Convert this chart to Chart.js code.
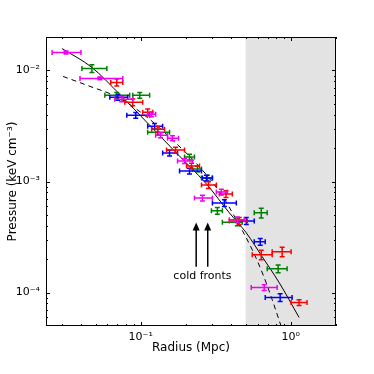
<!DOCTYPE html>
<html><head><meta charset="utf-8">
<script src="https://cdn.jsdelivr.net/npm/chart.js@4"></script>
<style>html,body{margin:0;padding:0;background:#fff}</style>
</head><body>
<canvas id="c" width="374" height="374"></canvas>
<script>
// ---- axis ranges & ticks ----
const xRange = [0.0234, 2.0];
const yRange = [5e-5, 0.02];
const xMajor = [0.1, 1];
const xMajorLabels = ['10\u207B\u00B9', '10\u2070'];
const yMajor = [1e-4, 1e-3, 1e-2];
const yMajorLabels = ['10\u207B\u2074', '10\u207B\u00B3', '10\u207B\u00B2'];
const xMinor = [0.03,0.04,0.05,0.06,0.07,0.08,0.09,0.2,0.3,0.4,0.5,0.6,0.7,0.8,0.9,2];
const yMinor = [6e-5,7e-5,8e-5,9e-5,2e-4,3e-4,4e-4,5e-4,6e-4,7e-4,8e-4,9e-4,2e-3,3e-3,4e-3,5e-3,6e-3,7e-3,8e-3,9e-3];
const shadeFrom = 0.5;

// ---- green series ----
const greenR   = [0.0473, 0.0693, 0.0985, 0.1297, 0.2114, 0.2389, 0.2783, 0.3242, 0.4402, 0.6353, 0.8236];
const greenRLo = [0.0406, 0.0577, 0.0885, 0.1113, 0.1959, 0.2214, 0.2540, 0.2958, 0.3500, 0.5707, 0.6963];
const greenRHi = [0.0595, 0.0845, 0.1147, 0.1557, 0.2282, 0.2540, 0.3004, 0.3500, 0.4752, 0.6963, 0.9450];
const greenP   = [0.01042, 0.00597, 0.00597, 0.00278, 0.001658, 0.001294, 0.001075, 0.000544, 0.00043, 0.000522, 0.000164];
const greenPErr= [0.08, 0.06, 0.06, 0.06, 0.06, 0.06, 0.06, 0.07, 0.07, 0.1, 0.08];
// ---- blue series ----
const blueR    = [0.0704, 0.0927, 0.1238, 0.1557, 0.2114, 0.2741, 0.3609, 0.5051, 0.6257, 0.8492];
const blueRLo  = [0.0623, 0.0808, 0.1113, 0.1400, 0.1815, 0.2579, 0.3004, 0.4539, 0.5707, 0.6754];
const blueRHi  = [0.0820, 0.1147, 0.1400, 0.1760, 0.2540, 0.3004, 0.4335, 0.5707, 0.6754, 1.020];
const blueP    = [0.005724, 0.003948, 0.003147, 0.001801, 0.001242, 0.001075, 0.000641, 0.000442, 0.000287, 0.0000902];
const bluePErr = [0.06, 0.06, 0.06, 0.06, 0.06, 0.06, 0.07, 0.07, 0.07, 0.08];
// ---- red series ----
const redR     = [0.0693, 0.0885, 0.1113, 0.1297, 0.1707, 0.2181, 0.283, 0.37, 0.4539, 0.6353, 0.8755, 1.135];
const redRLo   = [0.0632, 0.0783, 0.1031, 0.1183, 0.1487, 0.2020, 0.2540, 0.3342, 0.3896, 0.5535, 0.7516, 1.004];
const redRHi   = [0.0760, 0.1031, 0.1201, 0.1442, 0.1959, 0.2463, 0.3192, 0.4078, 0.5129, 0.7516, 1.0046, 1.283];
const redP     = [0.007806, 0.005164, 0.0042, 0.002957, 0.001917, 0.001377, 0.00093, 0.000772, 0.000442, 0.000219, 0.000233, 0.0000814];
const redPErr  = [0.07, 0.07, 0.07, 0.06, 0.06, 0.06, 0.07, 0.07, 0.07, 0.1, 0.1, 0.06];
// ---- magenta series ----
const magR     = [0.0318, 0.0534, 0.0748, 0.1183, 0.1357, 0.1631, 0.1959, 0.2579, 0.3447, 0.44, 0.665];
const magRLo   = [0.0257, 0.0394, 0.0672, 0.1113, 0.1258, 0.1510, 0.1760, 0.2282, 0.3192, 0.3896, 0.5451];
const magRHi   = [0.0400, 0.0760, 0.0885, 0.1258, 0.1510, 0.1787, 0.2214, 0.3004, 0.3778, 0.4899, 0.8111];
const magP     = [0.0145, 0.00848, 0.005495, 0.00403, 0.002612, 0.002455, 0.001527, 0.000711, 0.000805, 0.000452, 0.000111];
const magPErr  = [0.03, 0.03, 0.05, 0.05, 0.05, 0.05, 0.05, 0.06, 0.06, 0.06, 0.06];
// ---- model curves ----
const solidR = [0.0299, 0.0473, 0.0704, 0.1147, 0.1733, 0.2741, 0.3896, 0.5051, 0.645, 0.8363, 1.135];
const solidP = [0.01574, 0.01064, 0.006347, 0.003211, 0.001801, 0.000950, 0.000522, 0.000345, 0.00021, 0.000123, 0.0000597];
const dashR  = [0.0304, 0.0459, 0.0704, 0.1063, 0.1557, 0.254, 0.350, 0.4335, 0.5535, 0.665, 0.751, 0.876];
const dashP  = [0.00883, 0.00719, 0.00573, 0.003948, 0.002506, 0.001294, 0.000741, 0.000452, 0.000243, 0.0001363, 0.0000865, 0.0000466];
// ---- annotation ----
const arrowR = [0.2342, 0.2796];
const arrowP = [0.000171, 0.000427];   // [base, tip]
const noteText = 'cold fronts';
const noteAt = [0.2579, 0.000140];

const pts = (xs, ys) => xs.map((x, i) => ({x: x, y: ys[i]}));
const series = (label, color, r, p, lo, hi, pe) => ({
  type: 'scatter', label: label, data: pts(r, p), pointRadius: 0, borderColor: color,
  backgroundColor: color, err: {lo: lo, hi: hi, pe: pe}, showLine: false
});

const ctx = document.getElementById('c').getContext('2d');

const decor = {
  id: 'decor',
  beforeDatasetsDraw(chart) {
    const {ctx, chartArea: a, scales: {x}} = chart;
    ctx.save();
    ctx.fillStyle = '#e3e3e3';
    const sx = x.getPixelForValue(shadeFrom);
    ctx.fillRect(sx, a.top, a.right - sx, a.bottom - a.top);
    ctx.restore();
  },
  afterDatasetsDraw(chart) {
    const {ctx, chartArea: a, scales: {x, y}} = chart;
    ctx.save();
    ctx.beginPath(); ctx.rect(a.left, a.top, a.right - a.left, a.bottom - a.top); ctx.clip();
    chart.data.datasets.forEach(ds => {
      if (!ds.err) return;
      ctx.strokeStyle = ds.borderColor; ctx.lineWidth = 1.5;
      ds.data.forEach((d, i) => {
        const px = x.getPixelForValue(d.x), py = y.getPixelForValue(d.y);
        const xl = x.getPixelForValue(ds.err.lo[i]), xh = x.getPixelForValue(ds.err.hi[i]);
        const yl = y.getPixelForValue(d.y * (1 - ds.err.pe[i])), yh = y.getPixelForValue(d.y * (1 + ds.err.pe[i]));
        const c = 2.5;
        ctx.beginPath();
        ctx.moveTo(xl, py); ctx.lineTo(xh, py);
        ctx.moveTo(xl, py - c); ctx.lineTo(xl, py + c);
        ctx.moveTo(xh, py - c); ctx.lineTo(xh, py + c);
        ctx.moveTo(px, yl); ctx.lineTo(px, yh);
        ctx.moveTo(px - c, yl); ctx.lineTo(px + c, yl);
        ctx.moveTo(px - c, yh); ctx.lineTo(px + c, yh);
        ctx.stroke();
      });
    });
    ctx.restore();
  },
  afterDraw(chart) {
    const {ctx, chartArea: a, scales: {x, y}} = chart;
    ctx.save();
    // arrows
    ctx.strokeStyle = '#000'; ctx.fillStyle = '#000'; ctx.lineWidth = 1.5;
    arrowR.forEach(r => {
      const ax = x.getPixelForValue(r);
      const yb = y.getPixelForValue(arrowP[0]), yt = y.getPixelForValue(arrowP[1]);
      ctx.beginPath(); ctx.moveTo(ax, yb); ctx.lineTo(ax, yt + 6); ctx.stroke();
      ctx.beginPath(); ctx.moveTo(ax, yt); ctx.lineTo(ax - 3.5, yt + 8); ctx.lineTo(ax + 3.5, yt + 8); ctx.closePath(); ctx.fill();
    });
    ctx.font = '11px "DejaVu Sans"'; ctx.textAlign = 'center'; ctx.textBaseline = 'middle';
    ctx.fillText(noteText, x.getPixelForValue(noteAt[0]), y.getPixelForValue(noteAt[1]));
    // frame
    ctx.lineWidth = 1; ctx.strokeStyle = '#000';
    ctx.strokeRect(a.left + 0.5, a.top + 0.5, a.right - a.left - 1, a.bottom - a.top - 1);
    // ticks (inside, all sides)
    ctx.beginPath();
    const tx = (v, len) => { const p = Math.round(x.getPixelForValue(v)) + 0.5;
      ctx.moveTo(p, a.bottom); ctx.lineTo(p, a.bottom - len); ctx.moveTo(p, a.top); ctx.lineTo(p, a.top + len); };
    const ty = (v, len) => { const p = Math.round(y.getPixelForValue(v)) + 0.5;
      ctx.moveTo(a.left, p); ctx.lineTo(a.left + len, p); ctx.moveTo(a.right, p); ctx.lineTo(a.right - len, p); };
    xMajor.forEach(v => tx(v, 4)); xMinor.forEach(v => tx(v, 2));
    yMajor.forEach(v => ty(v, 4)); yMinor.forEach(v => ty(v, 2));
    ctx.stroke();
    ctx.restore();
  }
};

new Chart(ctx, {
  type: 'scatter',
  data: {
    datasets: [
      {type: 'scatter', label: 'model', data: pts(solidR, solidP), showLine: true, pointRadius: 0,
       borderColor: '#000', borderWidth: 1, cubicInterpolationMode: 'monotone', fill: false},
      {type: 'scatter', label: 'model 2', data: pts(dashR, dashP), showLine: true, pointRadius: 0,
       borderColor: '#000', borderWidth: 1, borderDash: [5, 4], cubicInterpolationMode: 'monotone', fill: false},
      series('green', '#008000', greenR, greenP, greenRLo, greenRHi, greenPErr),
      series('blue', '#0000ff', blueR, blueP, blueRLo, blueRHi, bluePErr),
      series('red', '#ff0000', redR, redP, redRLo, redRHi, redPErr),
      series('magenta', '#f000f0', magR, magP, magRLo, magRHi, magPErr)
    ]
  },
  options: {
    responsive: false, animation: false, devicePixelRatio: 1,
    layout: {padding: {left: 0, top: 37, right: 38, bottom: 0}},
    plugins: {legend: {display: false}, tooltip: {enabled: false}},
    scales: {
      x: {
        type: 'logarithmic', position: 'bottom', min: xRange[0], max: xRange[1],
        afterBuildTicks: s => { s.ticks = xMajor.map(v => ({value: v})); },
        afterFit: s => { s.height = 48; },
        grid: {display: false, drawTicks: false}, border: {display: false},
        ticks: {autoSkip: false, maxRotation: 0, padding: 5, color: '#000',
          font: {family: '"DejaVu Sans"', size: 11},
          callback: v => { const i = xMajor.indexOf(v); return i >= 0 ? xMajorLabels[i] : ''; }},
        title: {display: true, text: 'Radius (Mpc)', color: '#000',
          font: {family: '"DejaVu Sans"', size: 12}, padding: {top: 0, bottom: 19}}
      },
      y: {
        type: 'logarithmic', position: 'left', min: yRange[0], max: yRange[1],
        afterBuildTicks: s => { s.ticks = yMajor.map(v => ({value: v})); },
        afterFit: s => { s.width = 46; },
        grid: {display: false, drawTicks: false}, border: {display: false},
        ticks: {autoSkip: false, padding: 6, color: '#000',
          font: {family: '"DejaVu Sans"', size: 11},
          callback: v => { const i = yMajor.indexOf(v); return i >= 0 ? yMajorLabels[i] : ''; }},
        title: {display: true, text: 'Pressure (keV cm\u207B\u00B3)', color: '#000',
          font: {family: '"DejaVu Sans"', size: 12}, padding: {top: 6, bottom: 0}}
      }
    }
  },
  plugins: [decor]
});
</script>
</body></html>
